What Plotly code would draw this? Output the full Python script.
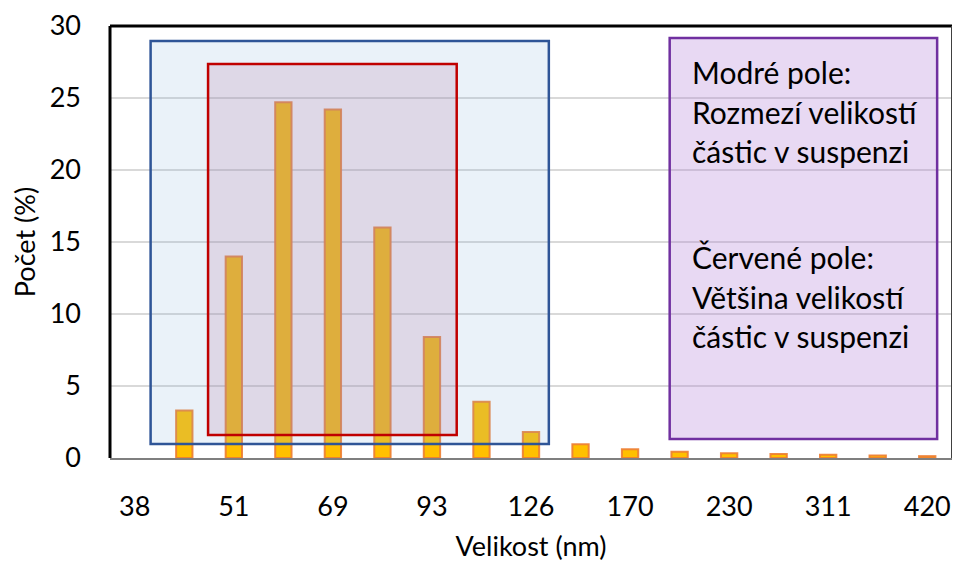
import plotly.graph_objects as go

# Data
sizes = ["38", "44", "51", "59", "69", "80", "93", "108", "126", "146",
         "170", "197", "230", "267", "311", "362", "420"]
counts = [None, 3.3, 14.0, 24.7, 24.2, 16.0, 8.4, 3.9, 1.8, 0.95,
          0.6, 0.43, 0.33, 0.28, 0.23, 0.18, 0.13]
shown_ticks = ["38", "51", "69", "93", "126", "170", "230", "311", "420"]

FONT = "Lato, 'Open Sans', sans-serif"

fig = go.Figure()
fig.add_trace(go.Bar(
    x=sizes, y=counts, width=0.33,
    marker=dict(color="#FFC000", line=dict(color="rgba(237,125,49,0.9)", width=2)),
    showlegend=False,
))

shapes = [
    # blue box
    dict(type="rect", xref="x", yref="y", x0=0.32, x1=8.36, y0=0.97, y1=28.96,
         fillcolor="rgba(130,175,220,0.17)", line=dict(color="#2F5597", width=2.5), layer="above"),
    # red box
    dict(type="rect", xref="x", yref="y", x0=1.48, x1=6.5, y0=1.6, y1=27.36,
         fillcolor="rgba(175,115,160,0.2)", line=dict(color="#C00000", width=2.5), layer="above"),
    # purple box
    dict(type="rect", xref="x", yref="y", x0=10.8, x1=16.2, y0=1.32, y1=29.17,
         fillcolor="rgba(180,130,215,0.3)", line=dict(color="#7030A0", width=2.5), layer="above"),
    # frame
    dict(type="line", xref="paper", yref="paper", x0=0, x1=0, y0=0, y1=1,
         line=dict(color="black", width=3)),
    dict(type="line", xref="paper", yref="paper", x0=0, x1=1, y0=1, y1=1,
         line=dict(color="black", width=3)),
    dict(type="line", xref="paper", yref="paper", x0=1, x1=1, y0=0, y1=1,
         line=dict(color="#404040", width=2)),
]

lines = [("Modré pole:", 26.8), ("Rozmezí velikostí", 24.03), ("částic v suspenzi", 21.3),
         ("Červené pole:", 13.96), ("Většina velikostí", 11.18), ("částic v suspenzi", 8.47)]
annotations = [dict(text=t, x=11.22, y=yy, xref="x", yref="y", xanchor="left", yanchor="middle",
                    showarrow=False, font=dict(family=FONT, size=30, color="black"))
               for t, yy in lines]

fig.update_layout(
    width=944, height=561,
    margin=dict(l=102, r=0, t=18, b=111),
    plot_bgcolor="white", paper_bgcolor="white",
    font=dict(family=FONT, size=26, color="black"),
    shapes=shapes, annotations=annotations,
    bargap=0.67,
)
fig.update_xaxes(
    type="category", categoryorder="array", categoryarray=sizes,
    tickmode="array", tickvals=shown_ticks, ticktext=shown_ticks,
    range=[-0.5, 16.5], showgrid=False, automargin=False,
    showline=True, linecolor="#7F7F7F", linewidth=2,
    ticks="", ticklabelstandoff=24,
    tickfont=dict(family=FONT, size=27, color="black"),
    title=dict(text="Velikost (nm)", standoff=16, font=dict(family=FONT, size=27, color="black")),
)
fig.update_yaxes(
    range=[0, 30], dtick=5, showgrid=True, gridcolor="#D9D9D9", gridwidth=1.5,
    zeroline=False, showline=False, ticks="", ticklabelstandoff=28, automargin=False,
    tickfont=dict(family=FONT, size=27, color="black"),
    title=dict(text="Počet (%)", standoff=14, font=dict(family=FONT, size=27, color="black")),
)

fig.write_html("out.html")
